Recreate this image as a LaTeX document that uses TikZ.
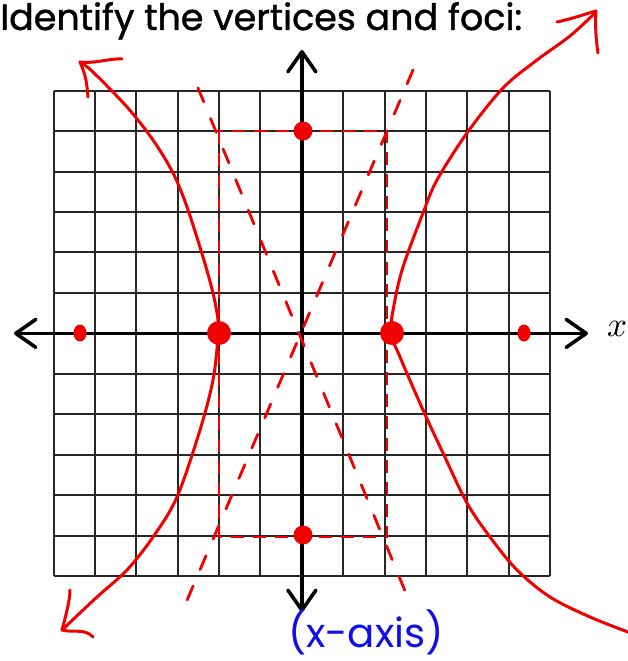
\documentclass[tikz,border=0pt]{standalone}
\usepackage{fontspec}
\newfontfamily\titlefont[FakeBold=1.2]{Poppins}
\newfontfamily\notefont{Poppins}
\usetikzlibrary{arrows.meta,shapes.geometric}
\definecolor{pen}{RGB}{240,0,0}
\definecolor{bluepen}{RGB}{15,15,230}
\begin{document}
\begin{tikzpicture}[x=1pt,y=-1pt,
  gridline/.style={line width=2pt,color=black!85},
  axisline/.style={line width=3.6pt,color=black,
    {Straight Barb[length=20pt,width=28pt,round]}-{Straight Barb[length=20pt,width=28pt,round]}},
  penline/.style={line width=3pt,color=pen,line cap=round,line join=round},
  rectdash/.style={line width=2.8pt,color=pen,dash pattern=on 13pt off 9pt},
  asymdash/.style={line width=2.8pt,color=pen,line cap=round,dash pattern=on 15pt off 18pt},
  vdot/.style={circle,fill=pen,minimum size=24pt,inner sep=0pt},
  cdot/.style={circle,fill=pen,minimum size=19pt,inner sep=0pt},
  fdot/.style={ellipse,fill=pen,minimum width=13pt,minimum height=17pt,inner sep=0pt}]
\useasboundingbox (0,0) rectangle (628,661);
\fill[white] (0,0) rectangle (628,661);

% title
\node[anchor=base west,inner sep=0pt] (title) at (0,30)
  {\titlefont\fontsize{29.5}{30}\selectfont\resizebox{522pt}{!}{Identify the vertices and foci:}};

% grid
\foreach \i in {0,...,12} {
  \pgfmathsetmacro\gx{53.5+41.375*\i}
  \pgfmathsetmacro\gy{90.7+40.44*\i}
  \draw[gridline] (\gx,90.7) -- (\gx,576);
  \draw[gridline] (53.5,\gy) -- (550,\gy);
}

% axes
\draw[axisline] (14,333.4) -- (588,333.4);
\draw[axisline] (301.9,612) -- (301.9,50);
\node[anchor=center,inner sep=0pt] (xlabel) at (617,329) {\scalebox{3.5}{$x$}};

% dashed box and asymptotes
\draw[rectdash] (219,131) rectangle (387,537);
\draw[asymdash] (413,70) -- (185,605);
\draw[asymdash] (198,88) -- (410,603);

% right branch
\draw[penline] plot[smooth,tension=0.55] coordinates {
  (596,12) (570,36) (537,60) (503,88) (467,133) (437,180) (423,213)
  (403,267) (394,305) (391,333) (400,357) (423,410) (443,453) (467,503)
  (490,537) (517,570) (550,597) (590,617) (628,632)};
\draw[penline] (557,22) .. controls (575,18) and (585,14) .. (596,11);
\draw[penline] (596,11) .. controls (595,25) and (596,40) .. (598,53);

% left branch
\draw[penline] plot[smooth,tension=0.55] coordinates {
  (80,62) (93,72) (127,107) (153,140) (173,173) (187,207) (203,257)
  (213,293) (218,320) (218,337) (213,380) (200,430) (177,497) (153,537)
  (127,570) (97,597) (62,630)};
\draw[penline] (80,62) .. controls (95,64) and (110,58) .. (122,59);
\draw[penline] (80,62) .. controls (86,75) and (87,85) .. (88,97);
\draw[penline] (62,630) .. controls (66,615) and (70,600) .. (70,590);
\draw[penline] (62,630) .. controls (72,633) and (85,628) .. (93,637);

% points
\node[vdot] (v1) at (219,333) {};
\node[vdot] (v2) at (392,333) {};
\node[cdot] (c1) at (303,131) {};
\node[cdot] (c2) at (303,535) {};
\node[fdot] (f1) at (80,333) {};
\node[fdot] (f2) at (524,333) {};

% annotation
\node[inner sep=0pt,text=bluepen,anchor=south] (note) at (366,655)
  {\notefont\fontsize{30}{30}\selectfont\resizebox{156pt}{!}{(x-axis)}};
\end{tikzpicture}
\end{document}
